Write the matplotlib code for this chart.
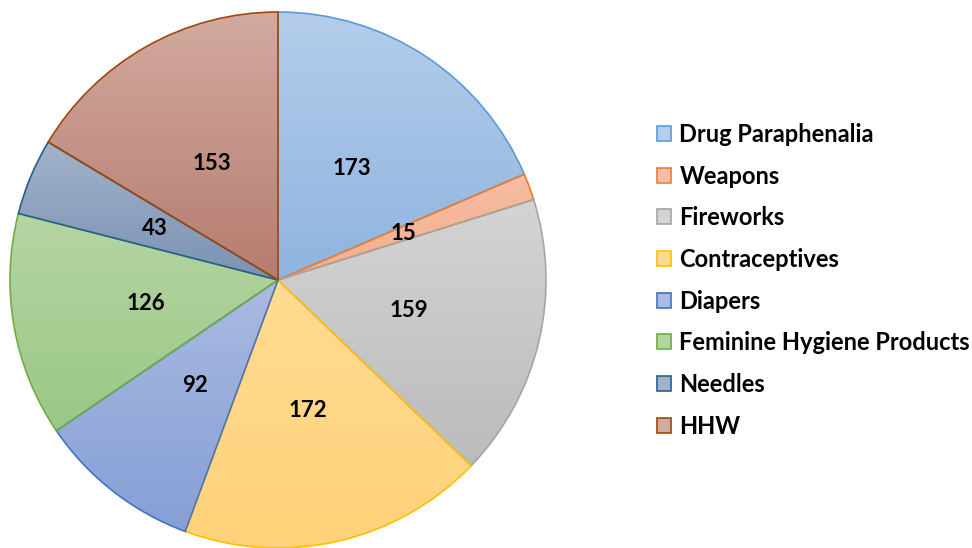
import numpy as np
import matplotlib
matplotlib.use("Agg")
import matplotlib.pyplot as plt
from matplotlib.colors import to_rgb
from matplotlib.patches import Patch

plt.rcParams['font.family'] = ['Lato', 'DejaVu Sans']

# Data
categories = ["Drug Paraphenalia", "Weapons", "Fireworks", "Contraceptives",
              "Diapers", "Feminine Hygiene Products", "Needles", "HHW"]
values = [173, 15, 159, 172, 92, 126, 43, 153]

# gradient fill (top, bottom) and outline colours
top_colors = ["#B4CDEA", "#F7BDA3", "#D4D4D4", "#FFDB92", "#AABAE2", "#B5D5A3", "#A2B2CA", "#D3AA9F"]
bottom_colors = ["#8FB4E0", "#F4AE8D", "#BBBBBB", "#FFD27A", "#869FD6", "#9BC786", "#7B92B3", "#B57C6F"]
edge_colors = ["#5B9BD5", "#ED7D31", "#A5A5A5", "#FFC000", "#4472C4", "#70AD47", "#255E91", "#9E480E"]

total = sum(values)

fig = plt.figure(figsize=(9.72, 5.48), dpi=100)
ax = fig.add_axes([0, 0, 1, 1])

wedges, texts, autotexts = ax.pie(
    values, startangle=90, counterclock=False,
    center=(278, 268), radius=268,
    autopct=lambda p: f"{p * total / 100:.0f}", pctdistance=0.5,
    wedgeprops=dict(linewidth=1.2),
    textprops=dict(fontsize=16, fontweight='bold', color='black'),
)

# vertical gradient in each slice
for w, c0, c1, ec in zip(wedges, top_colors, bottom_colors, edge_colors):
    path = w.get_patch_transform().transform_path(w.get_path())
    ext = path.get_extents()
    t = np.linspace(0, 1, 256)[:, None, None]
    grad = (1 - t) * np.array(to_rgb(c1)) + t * np.array(to_rgb(c0))
    im = ax.imshow(grad, extent=[ext.x0, ext.x1, ext.y0, ext.y1],
                   origin='lower', aspect='auto', interpolation='bilinear', zorder=1)
    im.set_clip_path(w)
    w.set_facecolor('none')
    w.set_edgecolor(ec)
    w.set_zorder(2)

for t in autotexts:
    t.set_zorder(3)

ax.set_xlim(0, 972)
ax.set_ylim(0, 548)
ax.set_aspect('equal')
ax.axis('off')

handles = [Patch(facecolor=c0, edgecolor=ec, linewidth=1.2)
           for c0, ec in zip(top_colors, edge_colors)]
leg = ax.legend(handles, categories, loc='upper left',
                bbox_to_anchor=(657 / 972, 1 - 123 / 548),
                frameon=False, prop=dict(size=17, weight='bold'),
                handlelength=0.6, handleheight=0.6, handletextpad=0.35,
                labelspacing=0.79, borderpad=0, borderaxespad=0)

fig.savefig("out.png", dpi=100)
